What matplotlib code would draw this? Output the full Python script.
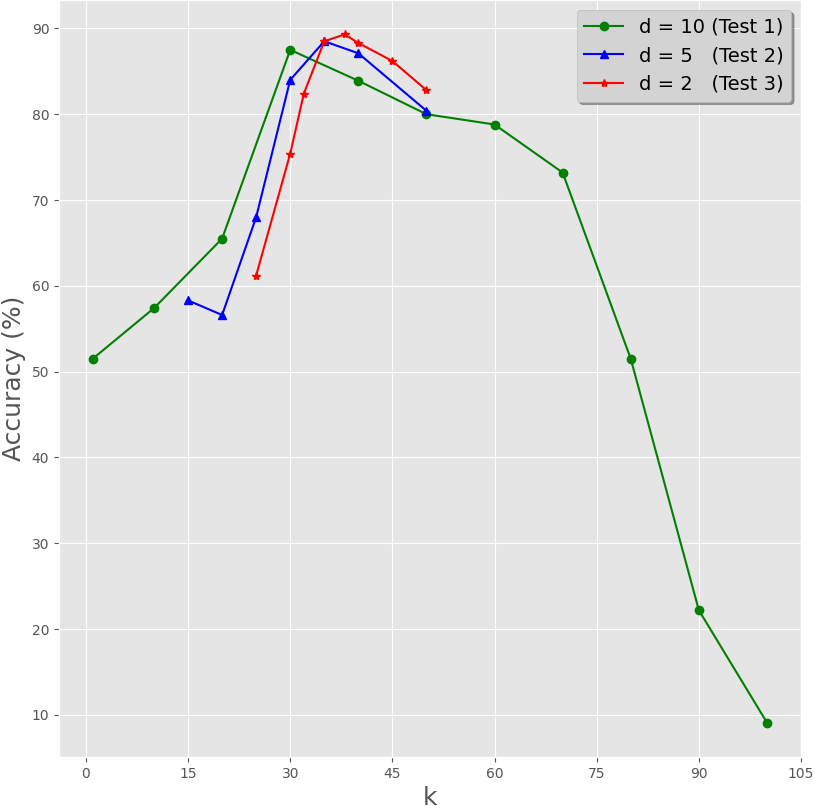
import numpy as np
import matplotlib
matplotlib.use('Agg')
import matplotlib.pyplot as plt

k_test1 = [1, 10, 20, 30, 40, 50, 60, 70, 80, 90, 100]
acc_test1 = [51.5, 57.4, 65.5, 87.5, 83.9, 80.0, 78.8, 73.2, 51.5, 22.2, 9.1]

k_test2 = [15, 20, 25, 30, 35, 40, 50]
acc_test2 = [58.3, 56.6, 68.0, 84.0, 88.5, 87.1, 80.4]

k_test3 = [25, 30, 32, 35, 38, 40, 45, 50]
acc_test3 = [61.2, 75.4, 82.4, 88.5, 89.3, 88.3, 86.2, 82.8]

labels = ['d = 10 (Test 1)', 'd = 5   (Test 2)', 'd = 2   (Test 3)']

plt.style.use('ggplot')
fig = plt.figure(figsize=(8.15, 8.06), dpi=100)
ax = fig.add_axes([59/815, 1 - 757/806, (801 - 59)/815, 757/806])

ax.plot(k_test1, acc_test1, color='green', marker='o', label=labels[0])
ax.plot(k_test2, acc_test2, color='blue', marker='^', label=labels[1])
ax.plot(k_test3, acc_test3, color='red', marker='*', label=labels[2])

ax.set_xticks(np.arange(0, 106, 15))
ax.set_yticks(np.arange(10, 91, 10))
ax.set_xlabel('k', fontsize=18)
ax.set_ylabel('Accuracy (%)', fontsize=18)
ax.legend(loc='upper right', fontsize=14, shadow=True, frameon=True,
          facecolor='#d3d3d3', edgecolor='#bbbbbb')

fig.savefig('out.png', dpi=100)
